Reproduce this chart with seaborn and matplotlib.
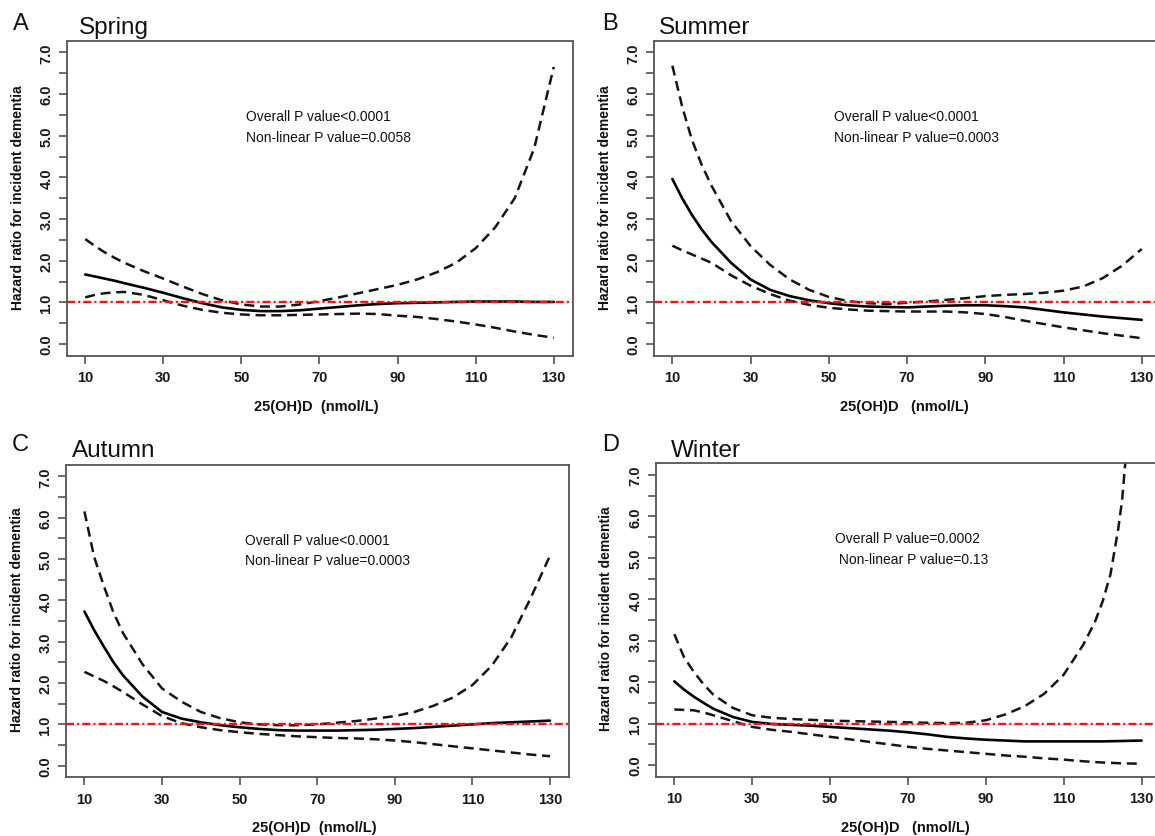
import numpy as np
import pandas as pd
import seaborn as sns
import matplotlib
matplotlib.use("Agg")
import matplotlib.pyplot as plt

sns.set_theme(style="white")
plt.rcParams["font.family"] = ["Liberation Sans", "DejaVu Sans"]

# ---- restricted cubic spline estimates: hazard ratio vs 25(OH)D (nmol/L) ----
x_grid = [10, 12.5, 15, 17.5, 20, 25, 30, 35, 40, 45, 50, 55, 60, 65, 70,
          75, 80, 85, 90, 95, 100, 105, 110, 115, 120, 125, 130]

spring_hr = [1.67, 1.62, 1.57, 1.52, 1.46, 1.35, 1.23, 1.10, 0.98, 0.88, 0.82, 0.79, 0.79, 0.81, 0.85,
             0.89, 0.93, 0.96, 0.98, 0.99, 1.00, 1.01, 1.02, 1.02, 1.02, 1.01, 1.01]
spring_hi = [2.52, 2.35, 2.20, 2.07, 1.95, 1.75, 1.57, 1.38, 1.20, 1.05, 0.95, 0.90, 0.90, 0.95, 1.03,
             1.12, 1.22, 1.32, 1.42, 1.55, 1.72, 1.95, 2.30, 2.80, 3.50, 4.70, 6.65]
spring_lo = [1.12, 1.18, 1.22, 1.24, 1.25, 1.18, 1.05, 0.92, 0.82, 0.75, 0.71, 0.69, 0.69, 0.70, 0.71,
             0.72, 0.73, 0.72, 0.68, 0.65, 0.60, 0.54, 0.47, 0.39, 0.30, 0.22, 0.15]

summer_hr = [3.96, 3.50, 3.10, 2.75, 2.45, 1.95, 1.55, 1.30, 1.15, 1.05, 0.98, 0.93, 0.90, 0.89, 0.88,
             0.90, 0.92, 0.93, 0.93, 0.91, 0.88, 0.82, 0.76, 0.71, 0.66, 0.62, 0.58]
summer_hi = [6.68, 5.70, 4.90, 4.30, 3.80, 2.95, 2.35, 1.90, 1.55, 1.30, 1.13, 1.03, 0.98, 0.96, 0.99,
             1.02, 1.06, 1.10, 1.15, 1.18, 1.20, 1.23, 1.28, 1.38, 1.58, 1.88, 2.28]
summer_lo = [2.36, 2.25, 2.15, 2.05, 1.95, 1.65, 1.40, 1.20, 1.04, 0.94, 0.87, 0.83, 0.80, 0.79, 0.78,
             0.78, 0.78, 0.76, 0.72, 0.65, 0.56, 0.48, 0.40, 0.33, 0.26, 0.20, 0.14]

autumn_hr = [3.73, 3.28, 2.88, 2.50, 2.18, 1.67, 1.30, 1.14, 1.05, 0.98, 0.93, 0.89, 0.86, 0.85, 0.85,
             0.85, 0.86, 0.87, 0.89, 0.91, 0.94, 0.97, 1.00, 1.03, 1.05, 1.07, 1.09]
autumn_hi = [6.15, 5.05, 4.35, 3.70, 3.20, 2.45, 1.87, 1.55, 1.30, 1.15, 1.05, 1.00, 0.98, 0.98, 1.00,
             1.04, 1.08, 1.14, 1.20, 1.30, 1.45, 1.65, 1.95, 2.42, 3.10, 4.05, 5.08]
autumn_lo = [2.27, 2.16, 2.05, 1.92, 1.78, 1.48, 1.20, 1.03, 0.93, 0.86, 0.81, 0.77, 0.74, 0.71, 0.69,
             0.67, 0.66, 0.64, 0.61, 0.57, 0.52, 0.47, 0.42, 0.37, 0.32, 0.27, 0.23]

winter_hr = [2.02, 1.82, 1.65, 1.50, 1.36, 1.16, 1.04, 0.99, 0.97, 0.95, 0.92, 0.89, 0.86, 0.83, 0.79,
             0.74, 0.68, 0.64, 0.61, 0.59, 0.57, 0.57, 0.57, 0.57, 0.57, 0.58, 0.59]
winter_lo = [1.34, 1.33, 1.32, 1.27, 1.20, 1.06, 0.92, 0.85, 0.80, 0.74, 0.68, 0.62, 0.56, 0.50, 0.44,
             0.39, 0.35, 0.31, 0.27, 0.23, 0.20, 0.16, 0.13, 0.09, 0.06, 0.04, 0.03]
winter_hi_x = [10, 12.5, 15, 17.5, 20, 25, 30, 35, 40, 50, 60, 70, 80, 85, 90, 95, 100,
               105, 110, 115, 118, 120, 122, 124, 125, 126]
winter_hi = [3.16, 2.60, 2.25, 1.95, 1.70, 1.38, 1.20, 1.14, 1.11, 1.07, 1.05, 1.03, 1.01, 1.02, 1.08, 1.22, 1.42,
             1.72, 2.18, 2.90, 3.45, 3.95, 4.60, 5.70, 6.40, 7.50]

panel_letters = ["A", "B", "C", "D"]
seasons = ["Spring", "Summer", "Autumn", "Winter"]
overall_p = ["Overall P value<0.0001", "Overall P value<0.0001",
             "Overall P value<0.0001", "Overall P value=0.0002"]
nonlinear_p = ["Non-linear P value=0.0058", "Non-linear P value=0.0003",
               "Non-linear P value=0.0003", " Non-linear P value=0.13"]
x_labels = ["25(OH)D  (nmol/L)", "25(OH)D   (nmol/L)",
            "25(OH)D  (nmol/L)", "25(OH)D   (nmol/L)"]
y_label = "Hazard ratio for incident dementia"
x_ticks = [10, 30, 50, 70, 90, 110, 130]
y_major = [0, 1, 2, 3, 4, 5, 6, 7]

curves = {
    "Spring": [(x_grid, spring_hr, "est"), (x_grid, spring_hi, "ci"), (x_grid, spring_lo, "ci")],
    "Summer": [(x_grid, summer_hr, "est"), (x_grid, summer_hi, "ci"), (x_grid, summer_lo, "ci")],
    "Autumn": [(x_grid, autumn_hr, "est"), (x_grid, autumn_hi, "ci"), (x_grid, autumn_lo, "ci")],
    "Winter": [(x_grid, winter_hr, "est"), (winter_hi_x, winter_hi, "ci"), (x_grid, winter_lo, "ci")],
}

W, H = 1155, 837
fig = plt.figure(figsize=(W / 100, H / 100), dpi=100)
fig.patch.set_facecolor("white")

# axes boxes in pixels: left, right, top, bottom
boxes = [(66.5, 572.5, 41.7, 356.7),
         (653.6, 1160.5, 41.7, 356.7),
         (65.8, 568.6, 465.7, 778.3),
         (655.6, 1160.3, 464.4, 777.6)]
ylab_x = [18.5, 605, 17, 606]
letter_pos = [(21, 24), (610, 24), (20, 445), (611, 445)]
title_pos = [(79, 34), (659, 34), (72, 457), (671, 457)]
xlab_y = [407, 407, 828, 828]

for i, season in enumerate(seasons):
    l, r, t, b = boxes[i]
    ax = fig.add_axes([l / W, 1 - b / H, (r - l) / W, (b - t) / H])
    ax.set_facecolor("white")

    for xs, ys, kind in curves[season]:
        df = pd.DataFrame({"x": xs, "y": ys})
        if kind == "est":
            sns.lineplot(data=df, x="x", y="y", ax=ax, color="black", lw=1.9,
                         estimator=None, sort=False)
        else:
            sns.lineplot(data=df, x="x", y="y", ax=ax, color="#151515", lw=1.8,
                         estimator=None, sort=False, dashes=False,
                         linestyle=(0, (4.0, 2.3)))

    ax.axhline(1.0, color="#ff1010", lw=1.7, linestyle=(0, (3.4, 1.3, 0.9, 1.3)))

    ax.set_xlim(5.2, 134.8)
    ax.set_ylim(-0.28, 7.28)
    ax.set_xticks(x_ticks)
    ax.set_xticklabels([str(v) for v in x_ticks], fontsize=10.5, fontweight="bold")
    ax.set_yticks(np.arange(0, 7.01, 0.5))
    ax.set_yticklabels([f"{v:.1f}" if v in y_major else "" for v in np.arange(0, 7.01, 0.5)],
                       fontsize=10.5, fontweight="bold", rotation=90, va="center")
    ax.tick_params(axis="both", direction="out", length=5.5, width=1.1, color="#444444",
                   labelcolor="#1a1a1a", bottom=True, left=True)
    ax.tick_params(axis="x", pad=5)
    ax.tick_params(axis="y", pad=4)
    for sp in ax.spines.values():
        sp.set_color("#555555")
        sp.set_linewidth(1.3)
        sp.set_visible(True)
    ax.set_xlabel("")
    ax.set_ylabel("")

    ax.text(51.3, 5.47, overall_p[i], fontsize=10, ha="left", va="center", color="#111111")
    ax.text(51.3, 4.98, nonlinear_p[i], fontsize=10, ha="left", va="center", color="#111111")

    # panel annotations placed in figure pixel space
    fig.text(ylab_x[i] / W, 1 - ((t + b) / 2 - 2) / H, y_label, rotation=90, fontsize=10,
             fontweight="bold", ha="center", va="center", color="#111111")
    fig.text(((l + r) / 2 - 3) / W, 1 - xlab_y[i] / H, x_labels[i], fontsize=10.5,
             fontweight="bold", ha="center", va="center", color="#111111")
    lx, ly = letter_pos[i]
    fig.text(lx / W, 1 - ly / H, panel_letters[i], fontsize=17, ha="center", va="center",
             color="#111111")
    tx, ty = title_pos[i]
    fig.text(tx / W, 1 - ty / H, season, fontsize=17.5, ha="left", va="baseline",
             color="#111111")

fig.savefig("out.png", dpi=100, facecolor="white")
